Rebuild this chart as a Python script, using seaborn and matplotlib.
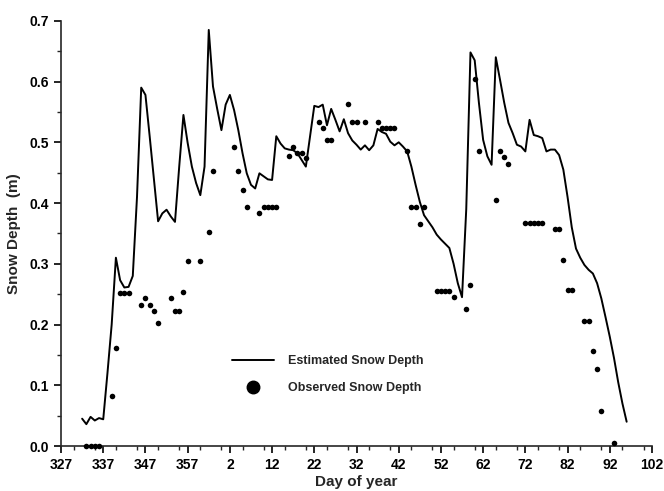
import matplotlib
matplotlib.use("Agg")
import numpy as np
import pandas as pd
import matplotlib.pyplot as plt
import seaborn as sns
from matplotlib.ticker import MultipleLocator, FixedLocator
from matplotlib.lines import Line2D

# estimated snow depth (m), one value per day, day of year wrapping at 365
est_days = list(range(332, 366)) + list(range(1, 97))
est_depth = [0.045, 0.036, 0.048, 0.042, 0.046, 0.044,
             0.12, 0.20, 0.31, 0.273, 0.261, 0.262, 0.28, 0.41,
             0.59, 0.578, 0.51, 0.44, 0.37, 0.383, 0.389, 0.378, 0.369, 0.46,
             0.545, 0.499, 0.46, 0.433, 0.413, 0.46, 0.685, 0.592, 0.555, 0.52,
             0.562, 0.578, 0.553, 0.52, 0.482, 0.449, 0.43, 0.424, 0.449, 0.444,
             0.439, 0.438, 0.51, 0.498, 0.49, 0.488, 0.487, 0.482, 0.471, 0.46,
             0.51, 0.56, 0.558, 0.562, 0.528, 0.555, 0.537, 0.518, 0.538, 0.515,
             0.503, 0.496, 0.488, 0.495, 0.487, 0.495, 0.522, 0.517, 0.514, 0.501,
             0.495, 0.5, 0.493, 0.485, 0.46, 0.43, 0.402, 0.38, 0.37, 0.36,
             0.348, 0.34, 0.333, 0.326, 0.3, 0.268, 0.245, 0.39, 0.648, 0.635,
             0.565, 0.504, 0.477, 0.463, 0.64, 0.603, 0.565, 0.532, 0.515, 0.496,
             0.493, 0.485, 0.537, 0.512, 0.51, 0.507, 0.485, 0.488, 0.488, 0.479,
             0.455, 0.41, 0.36, 0.325, 0.31, 0.298, 0.29, 0.284, 0.268, 0.243,
             0.212, 0.18, 0.145, 0.105, 0.07, 0.04]

# observed snow depth (m)
obs_days = [333, 334, 335, 336, 339, 340, 341, 342, 343,
            346, 347, 348, 349, 350, 353, 354, 355, 356, 357, 360, 362, 363,
            3, 4, 5, 6, 9, 10, 11, 12, 13, 16, 17, 18, 19, 20,
            23, 24, 25, 26, 30, 31, 32, 34, 37, 38, 39, 40, 41,
            44, 45, 46, 47, 48, 51, 52, 53, 54, 55, 58, 59, 60, 61,
            65, 66, 67, 68, 72, 73, 74, 75, 76, 79, 80, 81, 82, 83,
            86, 87, 88, 89, 90, 93]
obs_depth = [0.0, 0.0, 0.0, 0.0, 0.082, 0.162, 0.252, 0.252, 0.252,
             0.232, 0.243, 0.232, 0.223, 0.202, 0.243, 0.222, 0.222, 0.253, 0.304, 0.304, 0.353, 0.452,
             0.492, 0.452, 0.422, 0.393, 0.383, 0.393, 0.393, 0.393, 0.393, 0.478, 0.493, 0.483, 0.483, 0.474,
             0.533, 0.523, 0.503, 0.503, 0.563, 0.533, 0.533, 0.533, 0.533, 0.523, 0.523, 0.523, 0.523,
             0.485, 0.394, 0.394, 0.366, 0.394, 0.256, 0.256, 0.256, 0.256, 0.246, 0.225, 0.265, 0.604, 0.485,
             0.405, 0.485, 0.476, 0.465, 0.367, 0.367, 0.367, 0.367, 0.367, 0.357, 0.357, 0.307, 0.257, 0.257,
             0.206, 0.206, 0.157, 0.127, 0.058, 0.005]

tick_days = [327, 337, 347, 357, 2, 12, 22, 32, 42, 52, 62, 72, 82, 92, 102]


def unwrap(days):
    # days after new year continue past 365
    return [d if d >= 300 else d + 365 for d in days]


est = pd.DataFrame({'t': unwrap(est_days), 'depth': est_depth})
obs = pd.DataFrame({'t': unwrap(obs_days), 'depth': obs_depth})

sns.set_style('ticks')
plt.rcParams['font.family'] = ['Liberation Sans', 'DejaVu Sans']
plt.rcParams['font.weight'] = 'bold'

fig = plt.figure(figsize=(6.64, 4.91), dpi=100)
ax = fig.add_axes([0.0919, 0.0916, 0.890, 0.866])

sns.lineplot(data=est, x='t', y='depth', ax=ax, color='black', linewidth=1.4)
sns.scatterplot(data=obs, x='t', y='depth', ax=ax, color='black', s=16,
                edgecolor='black', linewidth=0, clip_on=False, zorder=3)

ax.set_xlim(327, 467)
ax.set_ylim(0, 0.7)
ax.xaxis.set_major_locator(FixedLocator(unwrap(tick_days)))
ax.set_xticklabels([str(d) for d in tick_days])
ax.xaxis.set_minor_locator(MultipleLocator(5))
ax.yaxis.set_major_locator(MultipleLocator(0.1))
ax.yaxis.set_minor_locator(MultipleLocator(0.05))
ax.set_yticklabels([f'{v:.1f}' for v in ax.get_yticks()])
ax.tick_params(axis='both', which='major', length=5, width=1.2, labelsize=10, colors='black')
ax.tick_params(axis='both', which='minor', length=3, width=1.0)
for lab in ax.get_xticklabels() + ax.get_yticklabels():
    lab.set_fontweight('bold')

sns.despine(ax=ax)
ax.spines['left'].set_linewidth(1.2)
ax.spines['bottom'].set_linewidth(1.2)
ax.set_xlabel('Day of year', fontsize=11, fontweight='bold', labelpad=2)
ax.set_ylabel('Snow Depth  (m)', fontsize=11, fontweight='bold', labelpad=6)

handles = [Line2D([0], [0], color='black', linewidth=1.4),
           Line2D([0], [0], color='black', marker='o', linestyle='none', markersize=9)]
ax.legend(handles, ['Estimated Snow Depth', 'Observed Snow Depth'],
          loc='center left', bbox_to_anchor=(0.27, 0.168), frameon=False,
          fontsize=9, handlelength=3.4, handletextpad=1.1, labelspacing=1.2)

fig.savefig('out.png', dpi=100)
